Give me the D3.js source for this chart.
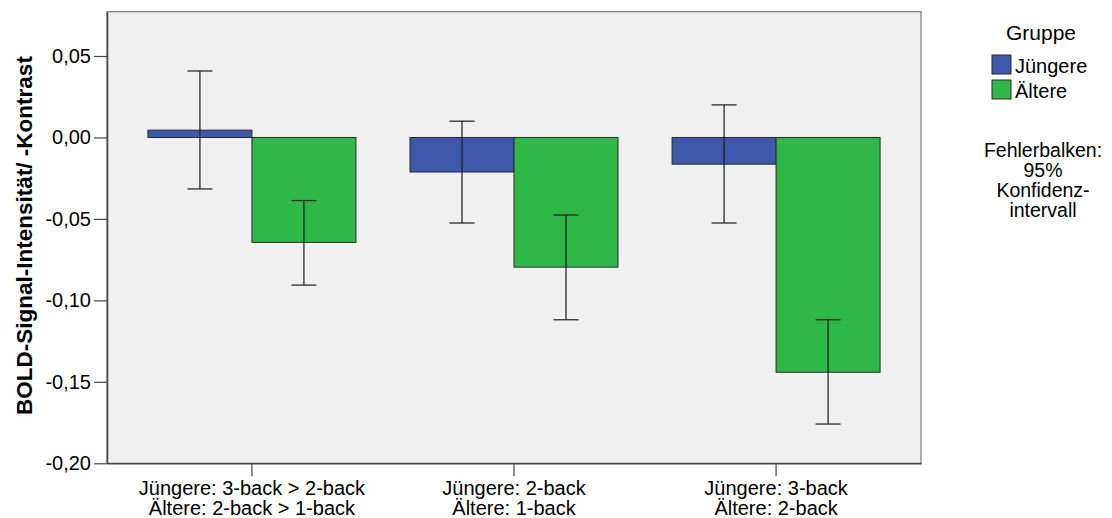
<!DOCTYPE html>
<html>
<head>
<meta charset="utf-8">
<script src="https://cdn.jsdelivr.net/npm/d3@7/dist/d3.min.js"></script>
<style>
  html, body { margin: 0; padding: 0; background: #ffffff; }
  svg { display: block; font-family: "Liberation Sans", Arial, sans-serif; }
</style>
</head>
<body>
<svg id="chart" width="1112" height="518"></svg>
<script>
// Category labels (two lines each)
const categories = [
  ["Jüngere: 3-back > 2-back", "Ältere: 2-back > 1-back"],
  ["Jüngere: 2-back", "Ältere: 1-back"],
  ["Jüngere: 3-back", "Ältere: 2-back"]
];
const groups = ["Jüngere", "Ältere"];
const groupColors = ["#3e58ac", "#2eb848"];

// Mean contrast values and 95% confidence limits
const youngerMean = [0.0045, -0.0212, -0.0164];
const youngerLow  = [-0.0316, -0.0525, -0.0525];
const youngerHigh = [0.0408, 0.0100, 0.0200];
const olderMean   = [-0.0644, -0.0796, -0.1441];
const olderLow    = [-0.0906, -0.1119, -0.1759];
const olderHigh   = [-0.0387, -0.0476, -0.1119];

const yTicks = [0.05, 0.00, -0.05, -0.10, -0.15, -0.20];
const yTitle = "BOLD-Signal-Intensität/ -Kontrast";
const legendTitle = "Gruppe";
const noteLines = ["Fehlerbalken:", "95%", "Konfidenz-", "intervall"];

const rows = [];
categories.forEach((c, i) => {
  rows.push({ cat: i, group: 0, mean: youngerMean[i], low: youngerLow[i], high: youngerHigh[i] });
  rows.push({ cat: i, group: 1, mean: olderMean[i], low: olderLow[i], high: olderHigh[i] });
});

const plot = { left: 107, right: 921, top: 11.7, bottom: 463.3 };
const svg = d3.select("#chart");
const locale = d3.formatLocale({ decimal: ",", thousands: ".", grouping: [3], currency: ["", " €"], minus: "-" });
const fmt = locale.format(".2f");

const y = d3.scaleLinear().domain([-0.20, 0.0772]).range([plot.bottom, plot.top]);
const x0 = d3.scaleBand().domain(d3.range(categories.length))
  .range([plot.left, plot.right]).paddingInner(0).paddingOuter(0.053);
const x1 = d3.scaleBand().domain(d3.range(groups.length))
  .range([0, x0.bandwidth()]).paddingInner(0).paddingOuter(0.26);

// plot background
svg.append("rect")
  .attr("x", plot.left).attr("y", plot.top)
  .attr("width", plot.right - plot.left).attr("height", plot.bottom - plot.top)
  .attr("fill", "#f0f0f0").attr("stroke", "#7a7a7a").attr("stroke-width", 1.2);

// bars
svg.append("g").selectAll("rect").data(rows).join("rect")
  .attr("x", d => x0(d.cat) + x1(d.group))
  .attr("width", x1.bandwidth())
  .attr("y", d => y(Math.max(0, d.mean)))
  .attr("height", d => Math.abs(y(d.mean) - y(0)))
  .attr("fill", d => groupColors[d.group])
  .attr("stroke", "#2b2b2b").attr("stroke-width", 1);

// error bars
const capHalf = 12.5;
const eb = svg.append("g").attr("stroke", "#1a1a1a").attr("stroke-width", 1.2).attr("fill", "none");
rows.forEach(d => {
  const cx = x0(d.cat) + x1(d.group) + x1.bandwidth() / 2;
  eb.append("line").attr("x1", cx).attr("x2", cx).attr("y1", y(d.high)).attr("y2", y(d.low));
  eb.append("line").attr("x1", cx - capHalf).attr("x2", cx + capHalf).attr("y1", y(d.high)).attr("y2", y(d.high));
  eb.append("line").attr("x1", cx - capHalf).attr("x2", cx + capHalf).attr("y1", y(d.low)).attr("y2", y(d.low));
});

// y axis
const yAxis = svg.append("g").attr("transform", `translate(${plot.left},0)`)
  .call(d3.axisLeft(y).tickValues(yTicks).tickFormat(fmt).tickSize(13).tickPadding(3).tickSizeOuter(0));
yAxis.select(".domain").attr("stroke", "#444").attr("stroke-width", 1.5);
yAxis.selectAll(".tick line").attr("stroke", "#444").attr("stroke-width", 1.2);
yAxis.selectAll(".tick text").attr("font-size", 20).attr("fill", "#000")
  .attr("font-family", "'Liberation Sans', Arial, sans-serif");

// x axis
const xAxis = svg.append("g").attr("transform", `translate(0,${plot.bottom})`)
  .call(d3.axisBottom(x0).tickSize(13).tickSizeOuter(0).tickFormat(""));
xAxis.select(".domain").attr("stroke", "#444").attr("stroke-width", 1.5);
xAxis.selectAll(".tick line").attr("stroke", "#444").attr("stroke-width", 1.2);
xAxis.selectAll(".tick").each(function(d) {
  const t = d3.select(this).append("text")
    .attr("text-anchor", "middle").attr("fill", "#000")
    .attr("font-size", 20).attr("font-family", "'Liberation Sans', Arial, sans-serif");
  categories[d].forEach((line, k) => {
    t.append("tspan").attr("x", 0).attr("y", 32 + k * 20).text(line);
  });
});

// y axis title
svg.append("text")
  .attr("transform", `translate(32,${(53 + 418) / 2}) rotate(-90)`)
  .attr("text-anchor", "middle")
  .attr("font-size", 22.5).attr("font-weight", "bold").attr("fill", "#000")
  .text(yTitle);

// legend
const lg = svg.append("g");
lg.append("text").attr("x", 1041).attr("y", 40).attr("text-anchor", "middle")
  .attr("font-size", 21).attr("fill", "#000").text(legendTitle);
groups.forEach((g, i) => {
  lg.append("rect").attr("x", 992).attr("y", 55 + i * 25).attr("width", 19).attr("height", 19)
    .attr("fill", groupColors[i]).attr("stroke", "#2b2b2b").attr("stroke-width", 1);
  lg.append("text").attr("x", 1015).attr("y", 73 + i * 25)
    .attr("font-size", 20).attr("fill", "#000").text(g);
});
const note = lg.append("text").attr("text-anchor", "middle").attr("font-size", 19.5).attr("fill", "#000");
noteLines.forEach((line, k) => {
  note.append("tspan").attr("x", 1043).attr("y", 157 + k * 20).text(line);
});
</script>
</body>
</html>
